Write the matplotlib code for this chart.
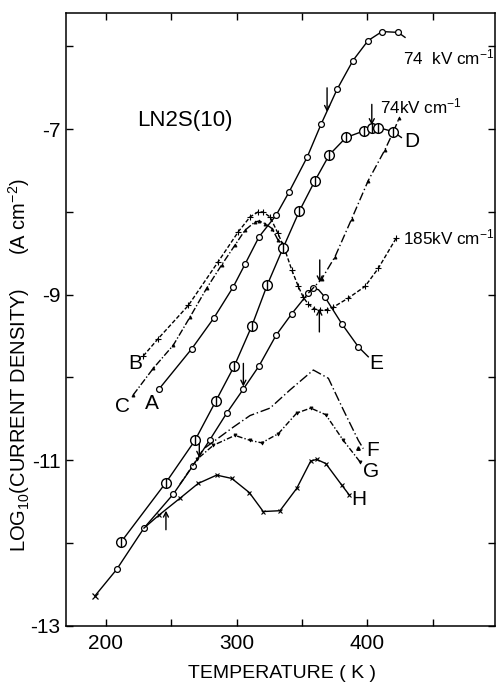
import matplotlib
matplotlib.use('Agg')
import matplotlib.pyplot as plt
from matplotlib import font_manager

plt.rcParams['font.family'] = ['Liberation Sans', 'DejaVu Sans']
plt.rcParams['mathtext.default'] = 'regular'

# temperature (K) and log10 current density (A cm^-2) for each run

# A: small circles, up to the 74 kV/cm maximum (last point is the line end)
a_temp = [240.7, 265.9, 282.7, 297.3, 306.5, 317.2, 330.2, 340.1, 353.9, 364.6,
          376.8, 389.0, 400.5, 411.2, 423.5, 428.8]
a_logj = [-10.14, -9.65, -9.28, -8.91, -8.63, -8.30, -8.04, -7.76, -7.34, -6.94,
          -6.52, -6.17, -5.93, -5.82, -5.83, -5.89]

# large barred circles, levelling off near -7 (74 kV/cm)
p_temp = [211.6, 246.0, 268.2, 284.3, 298.3, 311.6, 323.5, 335.7, 348.0, 360.0,
          370.9, 383.7, 397.5, 403.6, 408.4, 419.9]
p_logj = [-11.99, -11.27, -10.76, -10.28, -9.86, -9.38, -8.88, -8.43, -7.99, -7.62,
          -7.31, -7.10, -7.02, -6.98, -6.98, -7.03]

# B: hump near 316 K, then the 185 kV/cm branch
b_temp = [228.7, 240.1, 263.1, 286.0, 301.3, 310.3, 316.4, 320.2, 325.6, 331.7,
          337.0, 342.2, 347.2, 351.0, 354.6, 359.2, 363.8, 369.2, 374.0, 385.5,
          398.2, 408.4, 421.9]
b_logj = [-9.74, -9.53, -9.13, -8.60, -8.24, -8.06, -8.00, -8.00, -8.06, -8.26,
          -8.46, -8.70, -8.90, -9.03, -9.11, -9.17, -9.19, -9.18, -9.15, -9.04,
          -8.90, -8.68, -8.32]

# C
c_temp = [221.0, 236.3, 251.6, 264.4, 277.2, 288.6, 298.8, 306.5, 314.1, 317.4,
          321.7, 327.1, 331.7, 334.5]
c_logj = [-10.21, -9.89, -9.61, -9.27, -8.92, -8.64, -8.40, -8.22, -8.12, -8.11,
          -8.14, -8.20, -8.34, -8.38]

# E: common low-temperature branch, then peak and fall
e_temp = [191.7, 208.3, 229.2, 251.6, 266.5, 279.7, 292.5, 305.2, 317.2, 330.2,
          342.2, 354.9, 358.7, 362.7, 367.6, 380.4, 393.1, 400.7]
e_logj = [-12.64, -12.32, -11.82, -11.41, -11.07, -10.75, -10.43, -10.14, -9.86, -9.49,
          -9.23, -8.98, -8.92, -8.94, -9.03, -9.35, -9.63, -9.75]

# D: leaves E near 355 K
d_temp = [354.9, 365.1, 375.3, 388.1, 400.7, 413.4, 419.9, 424.2]
d_logj = [-8.98, -8.81, -8.54, -8.08, -7.62, -7.25, -7.03, -6.87]

# F, G, H: lower runs
f_temp = [275.9, 297.5, 310.3, 325.6, 340.9, 358.7, 370.2, 381.6, 393.1, 396.9]
f_logj = [-10.85, -10.60, -10.46, -10.37, -10.15, -9.91, -10.01, -10.39, -10.76, -10.86]

g_temp = [256.7, 269.7, 282.2, 298.8, 310.3, 319.2, 331.9, 346.0, 356.7, 368.2,
          381.6, 394.4]
g_logj = [-11.29, -10.99, -10.82, -10.70, -10.76, -10.79, -10.68, -10.43, -10.37, -10.45,
          -10.76, -11.02]

h_temp = [229.2, 240.9, 256.7, 270.7, 284.8, 296.3, 309.7, 320.4, 333.2, 346.0,
          356.7, 361.3, 368.2, 380.4, 386.2]
h_logj = [-11.82, -11.66, -11.46, -11.28, -11.18, -11.22, -11.39, -11.62, -11.61, -11.34,
          -11.01, -10.99, -11.04, -11.30, -11.42]

# arrows: temperature, tail, tip
arrow_temp = [369.2, 403.4, 305.2, 363.6, 363.3, 271.5, 246.0]
arrow_tail = [-6.50, -6.70, -9.83, -8.58, -9.45, -10.80, -11.84]
arrow_tip = [-6.79, -6.95, -10.11, -8.85, -9.17, -10.97, -11.61]

# curve letters and field labels
letters = ['A', 'B', 'C', 'D', 'E', 'F', 'G', 'H']
letter_temp = [234.9, 222.2, 212.8, 433.8, 407.0, 404.3, 402.8, 393.6]
letter_logj = [-10.32, -9.83, -10.35, -7.15, -9.83, -10.88, -11.14, -11.47]

field_text = ['74  kV cm$^{-1}$', '74kV cm$^{-1}$', '185kV cm$^{-1}$']
field_temp = [427.3, 409.6, 427.5]
field_logj = [-6.13, -6.72, -8.31]

x_ticks = [200, 250, 300, 350, 400, 450]
x_labels = ['200', '', '300', '', '400', '']
y_ticks = [-13, -12, -11, -10, -9, -8, -7, -6]
y_labels = ['-13', '', '-11', '', '-9', '', '-7', '']

K = 'black'
LW = 1.0

# narrow face for the field labels if it is there
installed = {f.name for f in font_manager.fontManager.ttflist}
if 'Liberation Sans Narrow' in installed:
    field_font, field_size = ['Liberation Sans Narrow', 'DejaVu Sans'], 14.5
else:
    field_font, field_size = ['Liberation Sans', 'DejaVu Sans'], 12.3

fig = plt.figure(figsize=(4.96, 6.88), dpi=100)
ax = fig.add_axes([0.1331, 0.0905, 0.8649, 0.8901])

# solid curves with open circles
ax.plot(a_temp, a_logj, '-', color=K, lw=LW, marker='o', ms=4.2, mfc='white',
        mec=K, mew=0.9, markevery=list(range(len(a_temp) - 1)))
ax.plot(e_temp, e_logj, '-', color=K, lw=LW, marker='o', ms=4.2, mfc='white',
        mec=K, mew=0.9, markevery=[1, 2, 3, 4, 5, 6, 7, 8, 9, 10, 11, 12, 14, 15, 16])
ax.plot(e_temp[:1], e_logj[:1], 'x', color=K, ms=4, mew=0.9)

# large circles with a bar through them
ax.plot(p_temp, p_logj, '-', color=K, lw=LW, marker='o', ms=7, mfc='white',
        mec=K, mew=1.0, zorder=3)
ax.plot(p_temp, p_logj, '|', color=K, ms=7, mew=1.0, zorder=4)
ax.plot([p_temp[-1], 426.0], [p_logj[-1], -7.10], '-', color=K, lw=LW)

# broken-line curves
ax.plot(b_temp, b_logj, color=K, lw=LW, ls=(0, (3, 1.5)), marker='+', ms=4, mew=0.8)
ax.plot(c_temp, c_logj, color=K, lw=LW, ls=(0, (5, 1.5, 1, 1.5)), marker='^', ms=2.2,
        mew=0.6)
ax.plot(d_temp, d_logj, color=K, lw=LW, ls=(0, (6, 2, 1, 2)), marker='^', ms=2.2, mew=0.6,
        markevery=list(range(1, len(d_temp))))
ax.plot(f_temp, f_logj, color=K, lw=LW, ls=(0, (7, 2, 1, 2)))
ax.plot([393.0], [-10.85], '^', color=K, ms=2.5)
ax.plot(g_temp, g_logj, color=K, lw=LW, ls=(0, (4, 1.5, 1, 1.5)), marker='v', ms=2.2,
        mew=0.6, markevery=list(range(1, len(g_temp))))
ax.plot(h_temp, h_logj, color=K, lw=LW, marker='x', ms=3, mew=0.8,
        markevery=list(range(1, len(h_temp))))

for t, tail, tip in zip(arrow_temp, arrow_tail, arrow_tip):
    ax.annotate('', xy=(t, tip), xytext=(t, tail),
                arrowprops=dict(arrowstyle='->,head_length=0.35,head_width=0.18',
                                color=K, lw=LW, shrinkA=0, shrinkB=0))

for s, t, v in zip(letters, letter_temp, letter_logj):
    ax.text(t, v, s, fontsize=15, ha='center', va='center')

ax.text(260.6, -6.90, 'LN2S(10)', fontsize=16, ha='center', va='center')
for s, t, v in zip(field_text, field_temp, field_logj):
    ax.text(t, v, s, fontsize=field_size, family=field_font, ha='left', va='center')

ax.set_xlim(169.6, 497.6)
ax.set_ylim(-13, -5.6)
ax.set_xticks(x_ticks)
ax.set_xticklabels(x_labels)
ax.set_yticks(y_ticks)
ax.set_yticklabels(y_labels)
ax.tick_params(direction='in', length=5, width=1.0, top=True, right=True,
               labelsize=15)
ax.tick_params(axis='x', pad=6)
ax.tick_params(axis='y', pad=4)
for sp in ax.spines.values():
    sp.set_linewidth(1.1)

fig.text(19 / 496, 1 - 365 / 688,
         'LOG$_{10}$(CURRENT DENSITY)      (A cm$^{-2}$)',
         rotation=90, fontsize=14.5, ha='center', va='center')
fig.text(282 / 496, 1 - 674 / 688, 'TEMPERATURE ( K )', fontsize=14,
         ha='center', va='center')

fig.savefig('out.png', dpi=100, facecolor='white')
